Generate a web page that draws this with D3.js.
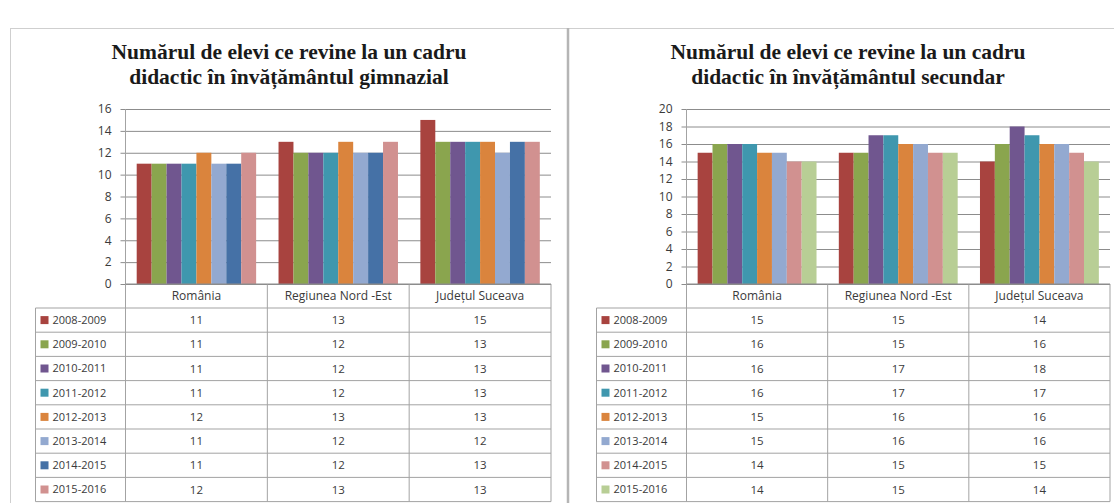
<!DOCTYPE html>
<html>
<head>
<meta charset="utf-8">
<script src="https://cdn.jsdelivr.net/npm/d3@7"></script>
<style>
    body { margin: 0; background: #fff; }
    svg text { font-family: "Open Sans", sans-serif; fill: #3a3a3a; }
    svg .title { font-family: "Liberation Serif", serif; font-weight: bold; fill: #1a1a1a; }
</style>
</head>
<body>
<svg id="chart" width="1114" height="503"></svg>
<script>
const categories = ["România", "Regiunea Nord -Est", "Județul Suceava"];
const years = ["2008-2009", "2009-2010", "2010-2011", "2011-2012", "2012-2013", "2013-2014", "2014-2015", "2015-2016"];

// values per school year, in category order
const gimnazial = [
    [11, 13, 15],
    [11, 12, 13],
    [11, 12, 13],
    [11, 12, 13],
    [12, 13, 13],
    [11, 12, 12],
    [11, 12, 13],
    [12, 13, 13]
];
const secundar = [
    [15, 15, 14],
    [16, 15, 16],
    [16, 17, 18],
    [16, 17, 17],
    [15, 16, 16],
    [15, 16, 16],
    [14, 15, 15],
    [14, 15, 14]
];

const colorsGimnazial = ["#a8433f", "#8aa54e", "#70568f", "#3f97ae", "#da843d", "#93a9d0", "#4571a6", "#d19190"];
const colorsSecundar = ["#a8433f", "#8aa54e", "#70568f", "#3f97ae", "#da843d", "#93a9d0", "#d19190", "#b8ce95"];

const ticksGimnazial = [0, 2, 4, 6, 8, 10, 12, 14, 16];
const ticksSecundar = [0, 2, 4, 6, 8, 10, 12, 14, 16, 18, 20];

const titleGimnazial = ["Numărul de elevi ce revine la un cadru", "didactic în învățământul gimnazial"];
const titleSecundar = ["Numărul de elevi ce revine la un cadru", "didactic în învățământul secundar"];

const svg = d3.select("#chart");

// chart frames (sheet background)
svg.append("line").attr("x1", 10).attr("x2", 1114).attr("y1", 28.5).attr("y2", 28.5).attr("stroke", "#cfcfcf");
svg.append("line").attr("x1", 10.5).attr("x2", 10.5).attr("y1", 28).attr("y2", 503).attr("stroke", "#cfcfcf");
svg.append("line").attr("x1", 568).attr("x2", 568).attr("y1", 28).attr("y2", 503).attr("stroke", "#b5b5b5").attr("stroke-width", 2.5);

function panel(opt) {
    const g = svg.append("g");
    const rowH = 24.2, headH = 24;
    const x = d3.scaleBand().domain(categories).range([opt.left, opt.right]);
    const xs = d3.scaleBand().domain(opt.series).range([0, x.bandwidth()]).paddingInner(0).paddingOuter(0.75);
    const y = d3.scaleLinear().domain([0, d3.max(opt.ticks)]).range([opt.bottom, opt.top]);

    // title
    g.selectAll(".title").data(opt.title).enter()
        .append("text")
        .attr("class", "title")
        .attr("x", opt.titleX)
        .attr("y", (d, i) => 59 + i * 25)
        .attr("text-anchor", "middle")
        .style("font-size", "21.5px")
        .text(d => d);

    // gridlines + y axis
    const yAxis = d3.axisLeft(y).tickValues(opt.ticks).tickSize(0).tickPadding(0);
    const ga = g.append("g").attr("transform", `translate(${opt.left},0)`).call(yAxis);
    ga.select(".domain").remove();
    ga.selectAll(".tick line").remove();
    ga.selectAll(".tick").append("line")
        .attr("x1", -5).attr("x2", opt.right - opt.left)
        .attr("stroke", "#8c8c8c");
    ga.selectAll(".tick text")
        .attr("x", -14)
        .style("font-size", "12px")
        .style("font-family", "Open Sans")
        .attr("fill", "#333");

    // bars
    opt.series.forEach((s, si) => {
        g.selectAll(null).data(opt.values[si]).enter()
            .append("rect")
            .attr("x", (d, ci) => x(categories[ci]) + xs(s))
            .attr("y", d => y(d))
            .attr("width", xs.bandwidth())
            .attr("height", d => y(0) - y(d))
            .attr("fill", opt.colors[si]);
    });

    // data table
    const tableBottom = opt.bottom + headH + rowH * opt.series.length;
    const lineColor = "#a3a3a3";
    g.append("line").attr("x1", opt.left).attr("x2", opt.left).attr("y1", opt.top).attr("y2", tableBottom).attr("stroke", lineColor);
    categories.forEach(c => {
        g.append("line")
            .attr("x1", x(c) + x.bandwidth()).attr("x2", x(c) + x.bandwidth())
            .attr("y1", opt.bottom).attr("y2", tableBottom)
            .attr("stroke", lineColor);
    });
    g.append("line").attr("x1", opt.left).attr("x2", opt.right).attr("y1", opt.bottom).attr("y2", opt.bottom).attr("stroke", "#8c8c8c");
    g.append("line").attr("x1", opt.tableLeft).attr("x2", opt.tableLeft).attr("y1", opt.bottom + headH).attr("y2", tableBottom).attr("stroke", lineColor);
    d3.range(opt.series.length + 1).forEach(i => {
        const yy = opt.bottom + headH + i * rowH;
        g.append("line").attr("x1", opt.tableLeft).attr("x2", opt.right).attr("y1", yy).attr("y2", yy).attr("stroke", lineColor);
    });

    g.selectAll(".cat").data(categories).enter()
        .append("text")
        .attr("x", d => x(d) + x.bandwidth() / 2)
        .attr("y", opt.bottom + headH / 2)
        .attr("dy", "0.35em")
        .attr("text-anchor", "middle")
        .style("font-size", "12px")
        .text(d => d);

    const rows = g.selectAll(".row").data(opt.series).enter()
        .append("g")
        .attr("transform", (d, i) => `translate(0,${opt.bottom + headH + i * rowH + rowH / 2})`);
    rows.append("rect")
        .attr("x", opt.tableLeft + 5).attr("y", -4)
        .attr("width", 8).attr("height", 8)
        .attr("fill", (d, i) => opt.colors[i]);
    rows.append("text")
        .attr("x", opt.tableLeft + 17)
        .attr("dy", "0.35em")
        .style("font-size", "11px")
        .text(d => d);
    rows.each(function (d, i) {
        d3.select(this).selectAll(".val").data(opt.values[i]).enter()
            .append("text")
            .attr("x", (v, ci) => x(categories[ci]) + x.bandwidth() / 2)
            .attr("dy", "0.35em")
            .attr("text-anchor", "middle")
            .style("font-size", "11.5px")
            .text(v => v);
    });
}

panel({
    title: titleGimnazial, titleX: 289,
    series: years, values: gimnazial, colors: colorsGimnazial, ticks: ticksGimnazial,
    left: 125.5, right: 551, top: 109, bottom: 284, tableLeft: 35.5
});
panel({
    title: titleSecundar, titleX: 848,
    series: years, values: secundar, colors: colorsSecundar, ticks: ticksSecundar,
    left: 686.5, right: 1110, top: 109, bottom: 284, tableLeft: 596.5
});
</script>
</body>
</html>
